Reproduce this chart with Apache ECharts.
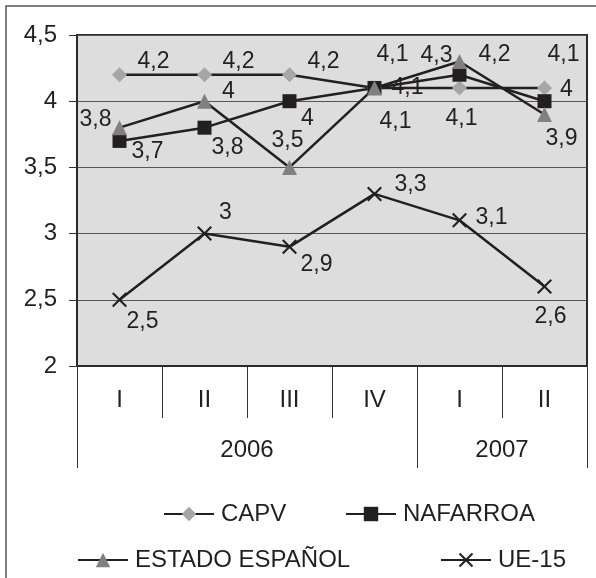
<!DOCTYPE html>
<html><head><meta charset="utf-8">
<script src="https://cdn.jsdelivr.net/npm/echarts@6/dist/echarts.min.js"></script>
<style>html,body{margin:0;padding:0;background:#fff}#c{width:596px;height:578px}</style>
</head><body><div id="c"></div>
<script>
// ---- data ----
const quarters = ['I', 'II', 'III', 'IV', 'I', 'II'];
const years = ['2006', '2007'];
const quartersPerYear = [4, 2];
const seriesNames = ['CAPV', 'NAFARROA', 'ESTADO ESPAÑOL', 'UE-15'];
const capv = [4.2, 4.2, 4.2, 4.1, 4.1, 4.1];
const nafarroa = [3.7, 3.8, 4.0, 4.1, 4.2, 4.0];
const estado = [3.8, 4.0, 3.5, 4.1, 4.3, 3.9];
const ue15 = [2.5, 3.0, 2.9, 3.3, 3.1, 2.6];
const yMin = 2, yMax = 4.5, yStep = 0.5;

// ---- label placement (style, not data) ----
const capvOff = [[34,-13],[34,-13],[34,-13],[33,0],[2,31],[19,-33]];
const nafOff  = [[28,11],[23,20],[18,17],[21,34],[35,-20],[22,-12]];
const estOff  = [[-24,-8],[24,-10],[-2,-27],[18,-33],[-23,-6],[17,24]];
const ueOff   = [[23,22],[21,-21],[27,18],[36,-9],[32,-3],[6,30]];

const FONT = '"Liberation Sans", Arial, sans-serif';
const INK = '#231f20';
const comma = v => String(v).replace('.', ',');

// year axis built on half-band boundaries
const yearAxisData = new Array(quarters.length * 2 + 1).fill('');
const yearTickIdx = new Set([0]);
let start = 0;
years.forEach((y, i) => {
  const span = quartersPerYear[i];
  yearAxisData[start * 2 + span] = y;
  start += span;
  yearTickIdx.add(start * 2);
});

function mk(name, values, symbol, size, markerColor, offs) {
  return {
    name, type: 'line',
    data: values.map((v, i) => ({ value: v, label: { offset: offs[i] } })),
    symbol, symbolSize: size,
    lineStyle: { color: INK, width: 2.5 },
    itemStyle: { color: markerColor, borderWidth: 0 },
    label: {
      show: true, position: 'inside', align: 'center', verticalAlign: 'middle',
      formatter: p => comma(p.value), color: INK, fontSize: 23, fontFamily: FONT
    },
    emphasis: { disabled: true },
    animation: false
  };
}

const crossPath = 'path://M0,1L1,0L10,9L9,10Z M9,0L10,1L1,10L0,9Z';

function legendAt(name, left, top) {
  return {
    data: [name], left, top, orient: 'horizontal',
    itemWidth: 50, itemHeight: 18, itemGap: 0,
    textStyle: { color: INK, fontSize: 24, fontFamily: FONT, padding: [0, 0, 0, 2] },
    selectedMode: false
  };
}

const chart = echarts.init(document.getElementById('c'));
chart.setOption({
  backgroundColor: '#ffffff',
  animation: false,
  graphic: [{
    type: 'rect', shape: { x: 6, y: 6, width: 640, height: 640 },
    style: { fill: 'none', stroke: '#555', lineWidth: 1.5 }, z: -1
  }],
  grid: {
    left: 77, top: 35, width: 510, height: 331, show: true,
    backgroundColor: '#dddddd', borderColor: '#2b2b2b', borderWidth: 2,
    containLabel: false, outerBoundsMode: 'none'
  },
  legend: [
    legendAt(seriesNames[0], 158, 497),
    legendAt(seriesNames[1], 340, 497),
    legendAt(seriesNames[2], 72, 543),
    legendAt(seriesNames[3], 435, 543)
  ],
  xAxis: [{
    type: 'category', data: quarters, boundaryGap: true, position: 'bottom',
    axisLine: { show: true, lineStyle: { color: '#2b2b2b', width: 2 } },
    axisTick: { show: true, interval: 0, length: 52, lineStyle: { color: '#333', width: 1 } },
    axisLabel: { interval: 0, margin: 22, color: INK, fontSize: 24, fontFamily: FONT },
    splitLine: { show: false }
  }, {
    type: 'category', data: yearAxisData, boundaryGap: false, position: 'bottom',
    axisLine: { show: false },
    axisTick: { show: true, length: 102, interval: (i) => yearTickIdx.has(i),
      lineStyle: { color: '#333', width: 1 } },
    axisLabel: { interval: (i, v) => v !== '', margin: 72, color: INK, fontSize: 24, fontFamily: FONT },
    splitLine: { show: false }
  }],
  yAxis: {
    type: 'value', min: yMin, max: yMax, interval: yStep,
    axisLine: { show: true, lineStyle: { color: '#2b2b2b', width: 2 } },
    axisTick: { show: true, length: 8, lineStyle: { color: '#333', width: 1 } },
    axisLabel: { margin: 20, color: INK, fontSize: 24, fontFamily: FONT, formatter: v => comma(v) },
    splitLine: { show: true, lineStyle: { color: '#555', width: 1 } }
  },
  series: [
    mk(seriesNames[0], capv, 'diamond', 15, '#a6a6a8', capvOff),
    mk(seriesNames[1], nafarroa, 'rect', 14, INK, nafOff),
    mk(seriesNames[2], estado, 'triangle', 15, '#808080', estOff),
    mk(seriesNames[3], ue15, crossPath, 15, INK, ueOff)
  ]
});
</script></body></html>
